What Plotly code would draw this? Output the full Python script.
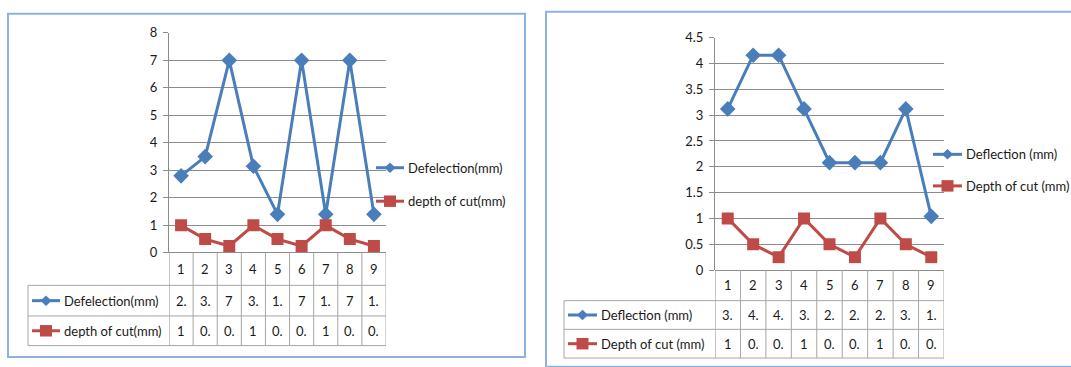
import plotly.graph_objects as go

# Figure size in pixels
W, H = 1071, 367

# ---- data ----
runs = [1, 2, 3, 4, 5, 6, 7, 8, 9]

deflection_a = [2.8, 3.5, 7, 3.15, 1.4, 7, 1.4, 7, 1.4]
depth_a = [1, 0.5, 0.25, 1, 0.5, 0.25, 1, 0.5, 0.25]
names_a = ["Defelection(mm)", "depth of cut(mm)"]

deflection_b = [3.12, 4.16, 4.16, 3.12, 2.08, 2.08, 2.08, 3.12, 1.04]
depth_b = [1, 0.5, 0.25, 1, 0.5, 0.25, 1, 0.5, 0.25]
names_b = ["Deflection (mm)", "Depth of cut (mm)"]

# ---- styling ----
BLUE = "#4a7ebb"
RED = "#be4b48"
GRID = "#8c8c8c"
TABLE = "#a6a6a6"
FRAME = "#8eb2e0"
TEXT = "#1a1a1a"
FONT = "Lato, Carlito, 'Liberation Sans', sans-serif"
FS = 13


def px(x):
    return x / W


def py(y):
    return 1 - y / H


def cell_text(v):
    # narrow data-table cells only show the first two characters
    return f"{v:g}"[:2]


# layout geometry of each panel (pixels)
panels = [
    dict(xa="x", ya="y", series=(deflection_a, depth_a), names=names_a,
         box=(8, 6, 525, 365), plot=(169, 26, 386, 256), ymax=8, dtick=1,
         table_left=28, rows=(290, 322, 353),
         key=(32, 60), leg_x=(376, 404), leg_y=(167, 202)),
    dict(xa="x2", ya="y2", series=(deflection_b, depth_b), names=names_b,
         box=(546, 4, 1080, 375), plot=(715, 31, 944, 274), ymax=4.5, dtick=0.5,
         table_left=564, rows=(306, 336, 366),
         key=(568, 597), leg_x=(933, 962), leg_y=(153, 186)),
]

fig = go.Figure()
shapes = []
annotations = []


def key_marker(cx, cy, kind, color):
    if kind == "diamond":
        r = 5.5
        path = (f"M {px(cx)},{py(cy - r)} L {px(cx + r)},{py(cy)} "
                f"L {px(cx)},{py(cy + r)} L {px(cx - r)},{py(cy)} Z")
        return dict(type="path", xref="paper", yref="paper", path=path,
                    fillcolor=color, line=dict(color=color, width=0))
    r = 6
    return dict(type="rect", xref="paper", yref="paper",
                x0=px(cx - r), x1=px(cx + r), y0=py(cy + r), y1=py(cy - r),
                fillcolor=color, line=dict(color=color, width=0))


def legend_key(x0, x1, cy, kind, color):
    out = [dict(type="line", xref="paper", yref="paper",
                x0=px(x0), x1=px(x1), y0=py(cy), y1=py(cy),
                line=dict(color=color, width=3))]
    out.append(key_marker((x0 + x1) / 2, cy, kind, color))
    return out


axis_layout = {}
for i, p in enumerate(panels):
    defl, depth = p["series"]
    n1, n2 = p["names"]
    fig.add_trace(go.Scatter(
        x=runs, y=defl, name=n1, mode="lines+markers",
        line=dict(color=BLUE, width=3),
        marker=dict(symbol="diamond", size=12, color=BLUE),
        xaxis=p["xa"], yaxis=p["ya"], showlegend=False))
    fig.add_trace(go.Scatter(
        x=runs, y=depth, name=n2, mode="lines+markers",
        line=dict(color=RED, width=3),
        marker=dict(symbol="square", size=12, color=RED),
        xaxis=p["xa"], yaxis=p["ya"], showlegend=False))

    x0, y0, x1, y1 = p["plot"]
    suffix = "" if i == 0 else str(i + 1)
    axis_layout["xaxis" + suffix] = dict(
        domain=[px(x0), px(x1)], range=[0.5, 9.5], showgrid=False,
        zeroline=False, showticklabels=False, ticks="", showline=False,
        anchor=p["ya"], fixedrange=True)
    axis_layout["yaxis" + suffix] = dict(
        domain=[py(y1), py(y0)], range=[0, p["ymax"]], dtick=p["dtick"],
        showgrid=True, gridcolor=GRID, gridwidth=1,
        zeroline=True, zerolinecolor=GRID, zerolinewidth=1,
        showline=True, linecolor=GRID, linewidth=1,
        ticks="outside", ticklen=5, tickcolor=GRID, ticklabelstandoff=3,
        tickfont=dict(family=FONT, size=FS, color=TEXT),
        anchor=p["xa"], fixedrange=True)

    # chart frame
    bx0, by0, bx1, by1 = p["box"]
    shapes.append(dict(type="rect", xref="paper", yref="paper",
                       x0=px(bx0), x1=px(bx1), y0=py(by1), y1=py(by0),
                       line=dict(color=FRAME, width=2), layer="below"))

    # data table grid
    r0, r1, r2 = p["rows"]
    tl = p["table_left"]
    for k in range(10):
        xv = 0.5 + k
        shapes.append(dict(type="line", xref=p["xa"], yref="paper",
                           x0=xv, x1=xv, y0=py(y1), y1=py(r2),
                           line=dict(color=GRID if k == 0 else TABLE, width=1)))
    shapes.append(dict(type="line", xref="paper", yref="paper",
                       x0=px(tl), x1=px(tl), y0=py(r0), y1=py(r2),
                       line=dict(color=TABLE, width=1)))
    for ry in (r0, r1, r2):
        shapes.append(dict(type="line", xref="paper", yref="paper",
                           x0=px(tl), x1=px(x1), y0=py(ry), y1=py(ry),
                           line=dict(color=TABLE, width=1)))

    # header row: run numbers
    for r in runs:
        annotations.append(dict(x=r, y=py((y1 + r0) / 2), xref=p["xa"], yref="paper",
                                text=str(r), showarrow=False, xanchor="center",
                                yanchor="middle",
                                font=dict(family=FONT, size=FS, color=TEXT)))
    # value rows
    for vals, top, bot in ((defl, r0, r1), (depth, r1, r2)):
        for r, v in zip(runs, vals):
            annotations.append(dict(x=r, y=py((top + bot) / 2), xref=p["xa"], yref="paper",
                                    text=cell_text(v), showarrow=False,
                                    xanchor="center", yanchor="middle",
                                    font=dict(family=FONT, size=FS, color=TEXT)))

    # legend keys inside the table
    kx0, kx1 = p["key"]
    for (name, kind, color), top, bot in (((n1, "diamond", BLUE), r0, r1),
                                          ((n2, "square", RED), r1, r2)):
        cy = (top + bot) / 2
        shapes.extend(legend_key(kx0, kx1, cy, kind, color))
        annotations.append(dict(x=px(kx1 + 2), y=py(cy), xref="paper", yref="paper",
                                text=name, showarrow=False, xanchor="left",
                                yanchor="middle",
                                font=dict(family=FONT, size=FS, color=TEXT)))

    # side legend
    lx0, lx1 = p["leg_x"]
    for (name, kind, color), cy in zip(((n1, "diamond", BLUE), (n2, "square", RED)),
                                       p["leg_y"]):
        shapes.extend(legend_key(lx0, lx1, cy, kind, color))
        annotations.append(dict(x=px(lx1 + 2), y=py(cy), xref="paper", yref="paper",
                                text=name, showarrow=False, xanchor="left",
                                yanchor="middle",
                                font=dict(family=FONT, size=FS, color=TEXT)))

fig.update_layout(
    width=W, height=H,
    margin=dict(l=0, r=0, t=0, b=0),
    paper_bgcolor="white", plot_bgcolor="white",
    showlegend=False,
    shapes=shapes,
    annotations=annotations,
    **axis_layout,
)

fig.write_html("out.html", config={"displayModeBar": False})
